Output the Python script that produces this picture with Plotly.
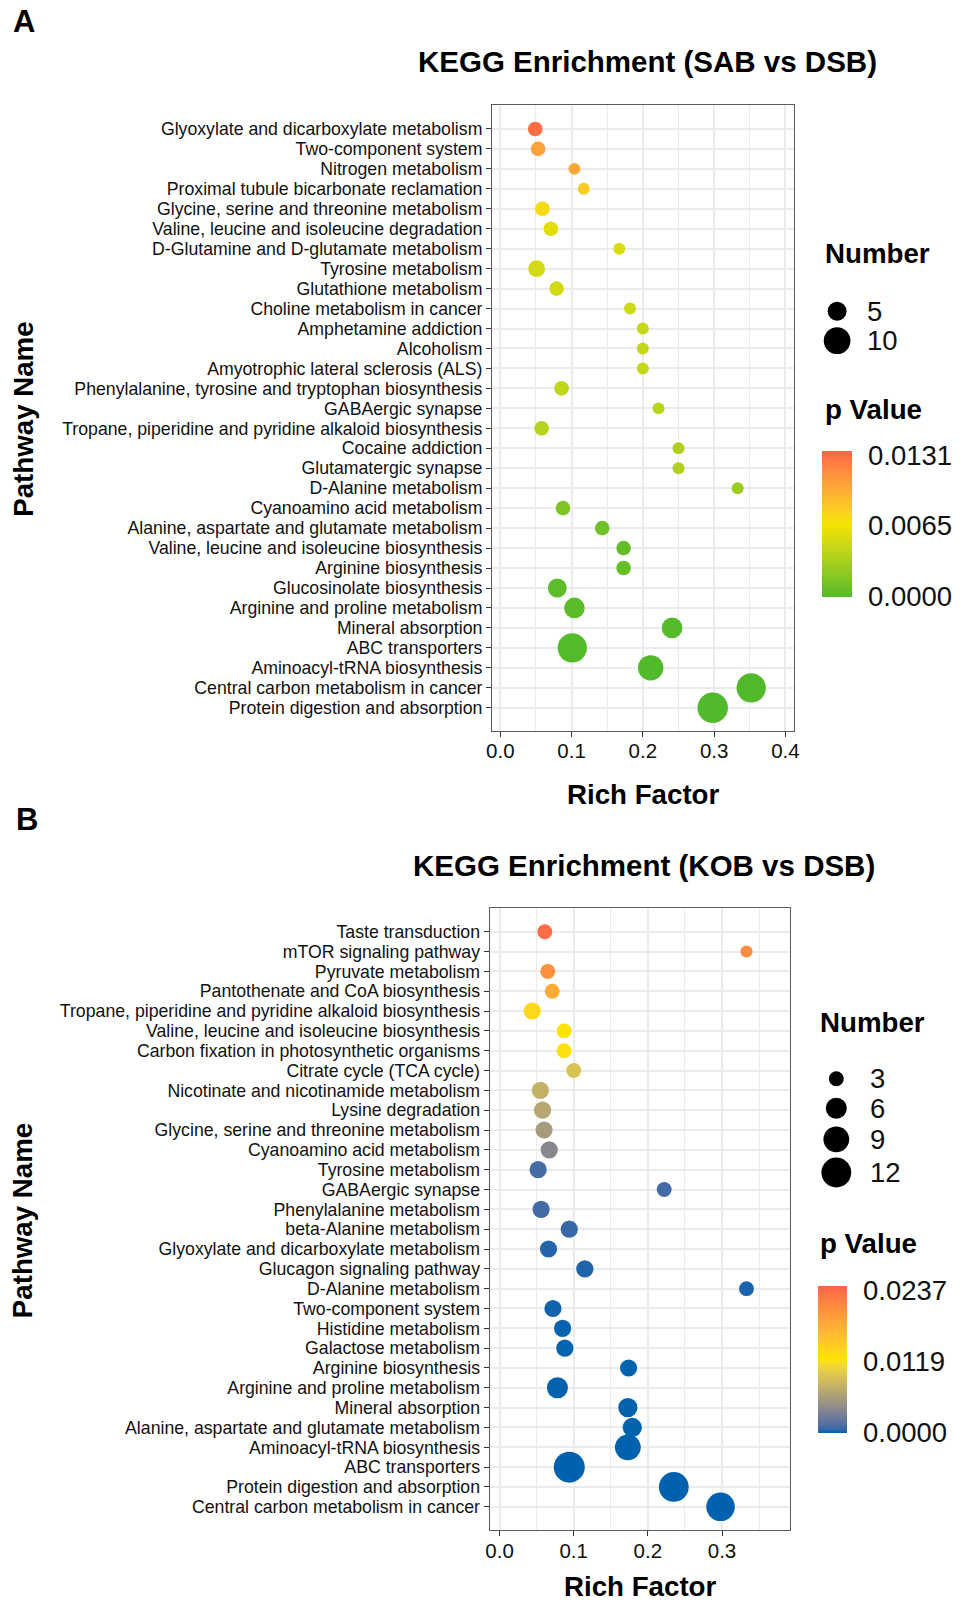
import plotly.graph_objects as go

W, H = 963, 1604
FONT = "Liberation Sans, Arial, Helvetica, sans-serif"

# ---------------- Panel A data (SAB vs DSB) ----------------
a_pathways = [
    "Glyoxylate and dicarboxylate metabolism",
    "Two-component system",
    "Nitrogen metabolism",
    "Proximal tubule bicarbonate reclamation",
    "Glycine, serine and threonine metabolism",
    "Valine, leucine and isoleucine degradation",
    "D-Glutamine and D-glutamate metabolism",
    "Tyrosine metabolism",
    "Glutathione metabolism",
    "Choline metabolism in cancer",
    "Amphetamine addiction",
    "Alcoholism",
    "Amyotrophic lateral sclerosis (ALS)",
    "Phenylalanine, tyrosine and tryptophan biosynthesis",
    "GABAergic synapse",
    "Tropane, piperidine and pyridine alkaloid biosynthesis",
    "Cocaine addiction",
    "Glutamatergic synapse",
    "D-Alanine metabolism",
    "Cyanoamino acid metabolism",
    "Alanine, aspartate and glutamate metabolism",
    "Valine, leucine and isoleucine biosynthesis",
    "Arginine biosynthesis",
    "Glucosinolate biosynthesis",
    "Arginine and proline metabolism",
    "Mineral absorption",
    "ABC transporters",
    "Aminoacyl-tRNA biosynthesis",
    "Central carbon metabolism in cancer",
    "Protein digestion and absorption",
]
a_rich = [0.049, 0.053, 0.104, 0.117, 0.059, 0.071, 0.167, 0.051, 0.079, 0.182,
          0.200, 0.200, 0.200, 0.086, 0.222, 0.058, 0.250, 0.250, 0.333, 0.088,
          0.143, 0.173, 0.173, 0.080, 0.104, 0.241, 0.101, 0.211, 0.352, 0.298]
a_count = [3, 3, 2, 2, 3, 3, 2, 4, 3, 2,
           2, 2, 2, 3, 2, 3, 2, 2, 2, 3,
           3, 3, 3, 5, 6, 6, 12, 9, 12, 13]
a_pvalue = [0.01308, 0.0105, 0.0101, 0.0081, 0.0073, 0.0059, 0.0055, 0.0052, 0.0051, 0.0049,
            0.0045, 0.0045, 0.0045, 0.0043, 0.0040, 0.0038, 0.0036, 0.0036, 0.0027, 0.0016,
            0.0010, 0.0006, 0.0006, 0.0004, 0.0003, 0.0002, 0.0001, 0.00005, 0.00002, 0.000001]
a_size_breaks = [5, 10]
a_xticks = [0.0, 0.1, 0.2, 0.3, 0.4]

# ---------------- Panel B data (KOB vs DSB) ----------------
b_pathways = [
    "Taste transduction",
    "mTOR signaling pathway",
    "Pyruvate metabolism",
    "Pantothenate and CoA biosynthesis",
    "Tropane, piperidine and pyridine alkaloid biosynthesis",
    "Valine, leucine and isoleucine biosynthesis",
    "Carbon fixation in photosynthetic organisms",
    "Citrate cycle (TCA cycle)",
    "Nicotinate and nicotinamide metabolism",
    "Lysine degradation",
    "Glycine, serine and threonine metabolism",
    "Cyanoamino acid metabolism",
    "Tyrosine metabolism",
    "GABAergic synapse",
    "Phenylalanine metabolism",
    "beta-Alanine metabolism",
    "Glyoxylate and dicarboxylate metabolism",
    "Glucagon signaling pathway",
    "D-Alanine metabolism",
    "Two-component system",
    "Histidine metabolism",
    "Galactose metabolism",
    "Arginine biosynthesis",
    "Arginine and proline metabolism",
    "Mineral absorption",
    "Alanine, aspartate and glutamate metabolism",
    "Aminoacyl-tRNA biosynthesis",
    "ABC transporters",
    "Protein digestion and absorption",
    "Central carbon metabolism in cancer",
]
b_rich = [0.061, 0.333, 0.065, 0.071, 0.044, 0.087, 0.087, 0.100, 0.055, 0.058,
          0.060, 0.067, 0.052, 0.222, 0.056, 0.094, 0.066, 0.115, 0.333, 0.072,
          0.085, 0.088, 0.174, 0.078, 0.173, 0.179, 0.173, 0.094, 0.235, 0.298]
b_count = [3, 2, 3, 3, 4, 3, 3, 3, 4, 4,
           4, 4, 4, 3, 4, 4, 4, 4, 3, 4,
           4, 4, 4, 6, 5, 5, 9, 13, 12, 11]
b_pvalue = [0.02374, 0.0209, 0.0205, 0.0180, 0.0135, 0.0121, 0.0120, 0.0093, 0.0078, 0.0069,
            0.0058, 0.0039, 0.0011, 0.0010, 0.0010, 0.0007, 0.0004, 0.00035, 0.0003, 0.0002,
            0.00008, 0.00007, 0.00004, 0.00003, 0.00002, 0.00001, 0.000005, 0.000003, 0.000002, 0.000001]
b_size_breaks = [3, 6, 9, 12]
b_xticks = [0.0, 0.1, 0.2, 0.3]

# colour ramps (low, mid, high)
a_colors = ["#50BA2A", "#F5E300", "#FF6347"]
b_colors = ["#0062AE", "#FFE400", "#FF6347"]


# ---------------- helpers ----------------
def _hex2rgb(h):
    h = h.lstrip('#')
    return [int(h[i:i + 2], 16) for i in (0, 2, 4)]


def _rgb2lab(rgb):
    c = [v / 255 for v in rgb]
    c = [v / 12.92 if v <= 0.04045 else ((v + 0.055) / 1.055) ** 2.4 for v in c]
    X = 0.4124564 * c[0] + 0.3575761 * c[1] + 0.1804375 * c[2]
    Y = 0.2126729 * c[0] + 0.7151522 * c[1] + 0.0721750 * c[2]
    Z = 0.0193339 * c[0] + 0.1191920 * c[1] + 0.9503041 * c[2]

    def f(t):
        return t ** (1 / 3) if t > 0.008856 else 7.787 * t + 16 / 116
    fx, fy, fz = f(X / 0.95047), f(Y / 1.0), f(Z / 1.08883)
    return [116 * fy - 16, 500 * (fx - fy), 200 * (fy - fz)]


def _lab2rgb(lab):
    L, a, b = lab
    fy = (L + 16) / 116
    fx = fy + a / 500
    fz = fy - b / 200

    def finv(t):
        return t ** 3 if t ** 3 > 0.008856 else (t - 16 / 116) / 7.787
    X, Y, Z = 0.95047 * finv(fx), finv(fy), 1.08883 * finv(fz)
    r = 3.2404542 * X - 1.5371385 * Y - 0.4985314 * Z
    g = -0.9692660 * X + 1.8760108 * Y + 0.0415560 * Z
    bb = 0.0556434 * X - 0.2040259 * Y + 1.0572252 * Z

    def gam(v):
        v = max(0.0, min(1.0, v))
        return 12.92 * v if v <= 0.0031308 else 1.055 * v ** (1 / 2.4) - 0.055
    return [round(255 * gam(v)) for v in (r, g, bb)]


def lab_scale(cols, n=41):
    labs = [_rgb2lab(_hex2rgb(c)) for c in cols]
    seg = len(cols) - 1
    out = []
    for i in range(n):
        t = i / (n - 1)
        k = min(int(t * seg), seg - 1)
        u = t * seg - k
        lab = [labs[k][j] + (labs[k + 1][j] - labs[k][j]) * u for j in range(3)]
        r, g, b = _lab2rgb(lab)
        out.append([t, f"rgb({r},{g},{b})"])
    return out


def px(x):
    return x / W


def py(y):
    return 1 - y / H


# ---------------- layout geometry (pixels) ----------------
panels = [
    dict(names=a_pathways, rich=a_rich, count=a_count, p=a_pvalue, colors=a_colors,
         breaks=a_size_breaks, xticks=a_xticks,
         box=(491.7, 797.3, 105.0, 730.7), xr=[-0.0115, 0.4123], ypad=(1.2, 1.15),
         k=8.45, title="KEGG Enrichment (SAB vs DSB)", title_xy=(648.8, 61.4),
         letter="A", letter_xy=(18.5, 21.7), xt_xy=(645.3, 794.2), yt_xy=(17.0, 419.0),
         num_xy=(826.5, 254.0), pv_xy=(826.0, 409.0),
         leg_x=840.7, leg_y=[311.3, 340.7], leg_lab_x=869.0,
         cb=(825.0, 450.7, 146.0, 30.0)),
    dict(names=b_pathways, rich=b_rich, count=b_count, p=b_pvalue, colors=b_colors,
         breaks=b_size_breaks, xticks=b_xticks,
         box=(489.3, 793.3, 908.3, 1530.0), xr=[-0.0133, 0.392], ypad=(1.18, 1.17),
         k=8.6, title="KEGG Enrichment (KOB vs DSB)", title_xy=(645.8, 865.8),
         letter="B", letter_xy=(21.5, 819.7), xt_xy=(641.5, 1586.0), yt_xy=(17.0, 1220.4),
         num_xy=(821.7, 1022.0), pv_xy=(821.7, 1243.0),
         leg_x=839.9, leg_y=[1078.8, 1108.3, 1139.3, 1172.5], leg_lab_x=872.0,
         cb=(821.0, 1285.7, 146.6, 29.0)),
]

fig = go.Figure()
annotations = []
shapes = []
layout_axes = {}

for i, P in enumerate(panels):
    sfx = "" if i == 0 else str(i + 1)
    xa, ya = "x" + sfx, "y" + sfx
    sizeref = 2.0 / P["k"] ** 2
    pmin, pmax = min(P["p"]), max(P["p"])
    span = pmax - pmin
    cmin, cmax = pmin, pmax + span * 0.03
    tvals = [pmin, (pmin + pmax) / 2, pmax]
    ttext = [f"{v:.4f}" for v in tvals]
    x0, x1, y0, y1 = P["box"]
    cbx, cby, cblen, cbth = P["cb"]

    fig.add_trace(go.Scatter(
        x=P["rich"], y=P["names"], mode="markers", xaxis=xa, yaxis=ya,
        showlegend=False, hoverinfo="skip",
        marker=dict(
            size=P["count"], sizemode="area", sizeref=sizeref,
            color=P["p"], colorscale=lab_scale(P["colors"]), cmin=cmin, cmax=cmax,
            line=dict(width=0), opacity=1,
            colorbar=dict(
                x=px(cbx), xanchor="left", xref="paper",
                y=py(cby), yanchor="top", yref="paper",
                len=cblen, lenmode="pixels", thickness=cbth, thicknessmode="pixels",
                xpad=0, ypad=0, outlinewidth=0, borderwidth=0,
                tickmode="array", tickvals=tvals, ticktext=ttext,
                ticks="outside", ticklen=11, tickcolor="rgba(0,0,0,0)",
                tickfont=dict(size=27.5, color="#111111", family=FONT),
            ),
        ),
    ))

    # white tick marks inside colour bar (ggplot style)
    for tv in tvals:
        frac = (tv - cmin) / (cmax - cmin)
        ypix = min(cby + cblen * (1 - frac), cby + cblen - 1.5)
        for xs, xe in ((cbx, cbx + 6), (cbx + cbth - 6, cbx + cbth)):
            shapes.append(dict(type="line", xref="paper", yref="paper",
                               x0=px(xs), x1=px(xe), y0=py(ypix), y1=py(ypix),
                               line=dict(color="white", width=1.2)))

    n = len(P["names"])
    layout_axes["xaxis" + sfx] = dict(
        domain=[px(x0), px(x1)], anchor=ya, range=P["xr"],
        tickmode="array", tickvals=P["xticks"], ticktext=[f"{v:.1f}" for v in P["xticks"]],
        showgrid=True, gridcolor="#EBEBEB", gridwidth=1.6,
        minor=dict(dtick=0.05, tick0=0, showgrid=True, gridcolor="#EBEBEB", gridwidth=1.1),
        zeroline=False, showline=True, mirror=True, linecolor="#5A5A5A", linewidth=1.3,
        ticks="outside", ticklen=5, tickwidth=1.2, tickcolor="#333333",
        ticklabelstandoff=-3,
        tickfont=dict(size=20.5, color="#111111", family=FONT),
        fixedrange=True,
    )
    layout_axes["yaxis" + sfx] = dict(
        domain=[py(y1), py(y0)], anchor=xa, type="category",
        categoryorder="array", categoryarray=P["names"],
        tickmode="linear", tick0=0, dtick=1,
        range=[n - 1 + P["ypad"][1], -P["ypad"][0]],
        showgrid=True, gridcolor="#EBEBEB", gridwidth=1.6,
        zeroline=False, showline=True, mirror=True, linecolor="#5A5A5A", linewidth=1.3,
        ticks="outside", ticklen=5, tickwidth=1.2, tickcolor="#333333",
        tickfont=dict(size=17.7, color="#111111", family=FONT),
        fixedrange=True,
    )

    # size legend keys on overlay axis (pixel coordinates)
    fig.add_trace(go.Scatter(
        x=[P["leg_x"]] * len(P["breaks"]), y=P["leg_y"], mode="markers",
        xaxis="x3", yaxis="y3", showlegend=False, hoverinfo="skip",
        marker=dict(size=P["breaks"], sizemode="area", sizeref=sizeref,
                    color="black", opacity=1, line=dict(width=0)),
    ))
    for val, yy in zip(P["breaks"], P["leg_y"]):
        annotations.append(dict(x=px(P["leg_lab_x"]), y=py(yy), xref="paper", yref="paper",
                                text=str(val), showarrow=False, xanchor="left", yanchor="middle",
                                font=dict(size=27.5, color="#111111", family=FONT)))

    def ann(text, xy, size, xanchor="center", angle=0):
        annotations.append(dict(x=px(xy[0]), y=py(xy[1]), xref="paper", yref="paper",
                                text=text, showarrow=False, xanchor=xanchor, yanchor="middle",
                                textangle=angle,
                                font=dict(size=size, color="black", family=FONT)))

    ann("<b>" + P["title"] + "</b>", P["title_xy"], 29.5)
    ann("<b>" + P["letter"] + "</b>", P["letter_xy"], 31)
    ann("<b>Rich Factor</b>", P["xt_xy"], 27.7)
    ann("<b>Pathway Name</b>", P["yt_xy"], 27.7, angle=-90)
    ann("<b>Number</b>", P["num_xy"], 27.7, xanchor="left")
    ann("<b>p Value</b>", P["pv_xy"], 27.7, xanchor="left")

layout_axes["xaxis3"] = dict(domain=[0, 1], range=[0, W], visible=False, anchor="y3",
                             fixedrange=True)
layout_axes["yaxis3"] = dict(domain=[0, 1], range=[H, 0], visible=False, anchor="x3",
                             fixedrange=True)

fig.update_layout(
    width=W, height=H, autosize=False,
    margin=dict(l=0, r=0, t=0, b=0, pad=0),
    paper_bgcolor="white", plot_bgcolor="rgba(0,0,0,0)",
    font=dict(family=FONT, color="#111111"),
    annotations=annotations, shapes=shapes,
    **layout_axes,
)

fig.write_html("out.html")
